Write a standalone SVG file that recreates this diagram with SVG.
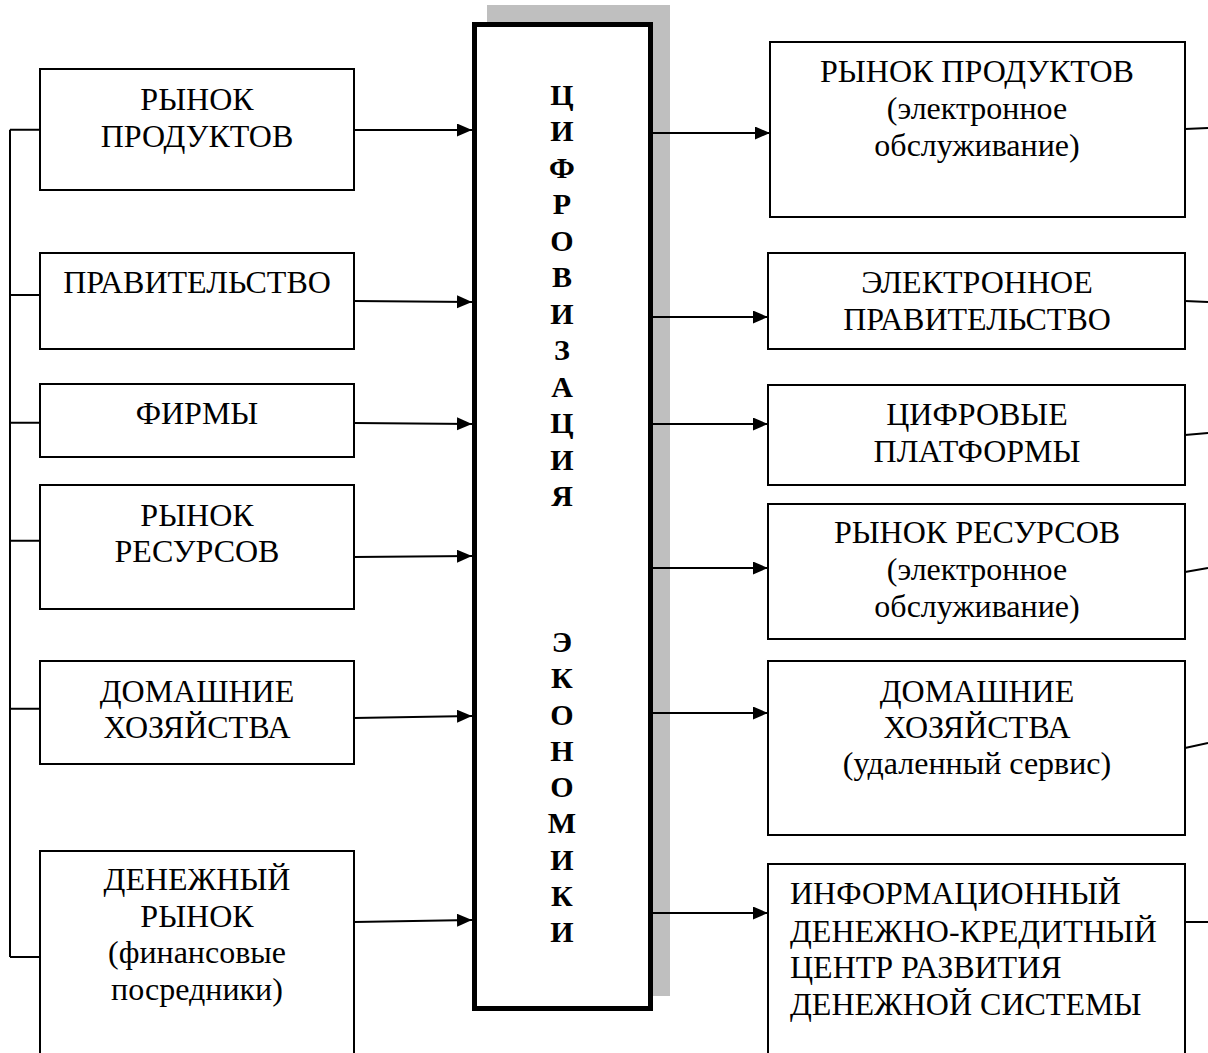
<svg xmlns="http://www.w3.org/2000/svg" width="1208" height="1053" viewBox="0 0 1208 1053">
<style>
.box{fill:#fff;stroke:#000;stroke-width:2}
.t{font-family:"Liberation Serif","Times New Roman",serif;font-size:32px;fill:#000;text-anchor:middle}
.tl{font-family:"Liberation Serif","Times New Roman",serif;font-size:32px;fill:#000}
.c{font-family:"Liberation Serif","Times New Roman",serif;font-size:30px;font-weight:bold;fill:#000;text-anchor:middle}
.ln{stroke:#000;stroke-width:2;fill:none}
</style>
<defs>
<marker id="ah" markerUnits="userSpaceOnUse" markerWidth="16" markerHeight="14" refX="15" refY="6.5" orient="auto">
<path d="M0,0 L15,6.5 L0,13 z" fill="#000"/>
</marker>
</defs>
<rect width="1208" height="1053" fill="#fff"/>

<g id="center">
<rect x="487" y="5" width="183" height="991" fill="#bfbfbf"/>
<rect x="474.5" y="24.5" width="176" height="984" fill="#fff" stroke="#000" stroke-width="5"/>
<text class="c" x="562" y="104.5">Ц</text>
<text class="c" x="562" y="141">И</text>
<text class="c" x="562" y="177.5">Ф</text>
<text class="c" x="562" y="214">Р</text>
<text class="c" x="562" y="250.5">О</text>
<text class="c" x="562" y="287">В</text>
<text class="c" x="562" y="323.5">И</text>
<text class="c" x="562" y="360">З</text>
<text class="c" x="562" y="396.5">А</text>
<text class="c" x="562" y="433">Ц</text>
<text class="c" x="562" y="469.5">И</text>
<text class="c" x="562" y="506">Я</text>
<text class="c" x="562" y="652">Э</text>
<text class="c" x="562" y="688">К</text>
<text class="c" x="562" y="725">О</text>
<text class="c" x="562" y="761">Н</text>
<text class="c" x="562" y="797">О</text>
<text class="c" x="562" y="833">М</text>
<text class="c" x="562" y="870">И</text>
<text class="c" x="562" y="906">К</text>
<text class="c" x="562" y="942">И</text>
</g>

<g id="connectors">
<path class="ln" d="M10,129.7 V957"/>
<path class="ln" d="M10,129.7 H40 M10,295 H40 M10,422.7 H40 M10,540.7 H40 M10,708.7 H40 M10,957 H40"/>
<path class="ln" d="M354,130 L472,130" marker-end="url(#ah)"/>
<path class="ln" d="M354,301 L472,302" marker-end="url(#ah)"/>
<path class="ln" d="M354,423 L472,424" marker-end="url(#ah)"/>
<path class="ln" d="M354,557 L472,556" marker-end="url(#ah)"/>
<path class="ln" d="M354,718 L472,716" marker-end="url(#ah)"/>
<path class="ln" d="M354,922 L472,920" marker-end="url(#ah)"/>
<path class="ln" d="M653,133 L770,133" marker-end="url(#ah)"/>
<path class="ln" d="M653,317 L768,317" marker-end="url(#ah)"/>
<path class="ln" d="M653,424 L768,424" marker-end="url(#ah)"/>
<path class="ln" d="M653,568 L768,568" marker-end="url(#ah)"/>
<path class="ln" d="M653,713 L768,713" marker-end="url(#ah)"/>
<path class="ln" d="M653,913 L768,913" marker-end="url(#ah)"/>
<path class="ln" d="M1185,129 L1208,128"/>
<path class="ln" d="M1185,301 L1208,302"/>
<path class="ln" d="M1185,435 L1208,433"/>
<path class="ln" d="M1185,572 L1208,568"/>
<path class="ln" d="M1185,748 L1208,743"/>
<path class="ln" d="M1185,922 L1208,922"/>
</g>

<g id="l1"><rect class="box" x="40" y="69" width="314" height="121"/>
<text class="t" x="197" y="110">РЫНОК</text><text class="t" x="197" y="147">ПРОДУКТОВ</text></g>
<g id="l2"><rect class="box" x="40" y="253" width="314" height="96"/>
<text class="t" x="197" y="293">ПРАВИТЕЛЬСТВО</text></g>
<g id="l3"><rect class="box" x="40" y="384" width="314" height="73"/>
<text class="t" x="197" y="424">ФИРМЫ</text></g>
<g id="l4"><rect class="box" x="40" y="485" width="314" height="124"/>
<text class="t" x="197" y="526">РЫНОК</text><text class="t" x="197" y="562">РЕСУРСОВ</text></g>
<g id="l5"><rect class="box" x="40" y="661" width="314" height="103"/>
<text class="t" x="197" y="702">ДОМАШНИЕ</text><text class="t" x="197" y="738">ХОЗЯЙСТВА</text></g>
<g id="l6"><rect class="box" x="40" y="851" width="314" height="230"/>
<text class="t" x="197" y="890">ДЕНЕЖНЫЙ</text><text class="t" x="197" y="927">РЫНОК</text>
<text class="t" x="197" y="963">(финансовые</text><text class="t" x="197" y="1000">посредники)</text></g>

<g id="r1"><rect class="box" x="770" y="42" width="415" height="175"/>
<text class="t" x="977" y="82">РЫНОК ПРОДУКТОВ</text><text class="t" x="977" y="119">(электронное</text><text class="t" x="977" y="156">обслуживание)</text></g>
<g id="r2"><rect class="box" x="768" y="253" width="417" height="96"/>
<text class="t" x="977" y="293">ЭЛЕКТРОННОЕ</text><text class="t" x="977" y="330">ПРАВИТЕЛЬСТВО</text></g>
<g id="r3"><rect class="box" x="768" y="385" width="417" height="100"/>
<text class="t" x="977" y="425">ЦИФРОВЫЕ</text><text class="t" x="977" y="462">ПЛАТФОРМЫ</text></g>
<g id="r4"><rect class="box" x="768" y="504" width="417" height="135"/>
<text class="t" x="977" y="543">РЫНОК РЕСУРСОВ</text><text class="t" x="977" y="580">(электронное</text><text class="t" x="977" y="617">обслуживание)</text></g>
<g id="r5"><rect class="box" x="768" y="661" width="417" height="174"/>
<text class="t" x="977" y="702">ДОМАШНИЕ</text><text class="t" x="977" y="738">ХОЗЯЙСТВА</text><text class="t" x="977" y="774">(удаленный сервис)</text></g>
<g id="r6"><rect class="box" x="768" y="864" width="417" height="220"/>
<text class="tl" x="790" y="904">ИНФОРМАЦИОННЫЙ</text><text class="tl" x="790" y="942">ДЕНЕЖНО-КРЕДИТНЫЙ</text>
<text class="tl" x="790" y="978">ЦЕНТР РАЗВИТИЯ</text><text class="tl" x="790" y="1015">ДЕНЕЖНОЙ СИСТЕМЫ</text></g>
</svg>
